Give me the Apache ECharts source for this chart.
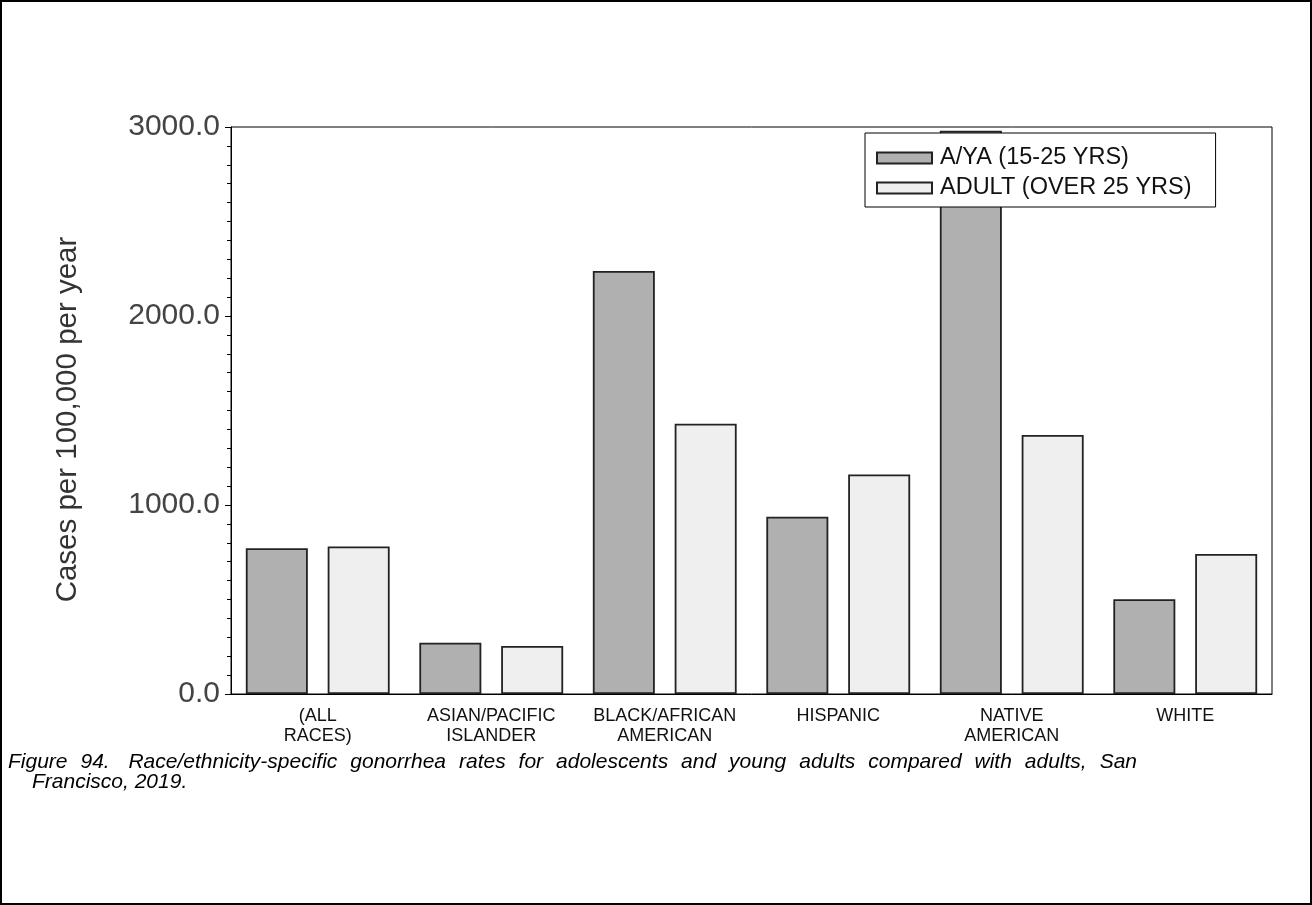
<!DOCTYPE html>
<html>
<head>
<meta charset="utf-8">
<script src="https://cdn.jsdelivr.net/npm/echarts@6/dist/echarts.min.js"></script>
<style>
html,body{margin:0;padding:0;background:#fff;}
#c{width:1312px;height:905px;}
</style>
</head>
<body>
<div id="c"></div>
<script>
var categories = ['(ALL\nRACES)', 'ASIAN/PACIFIC\nISLANDER', 'BLACK/AFRICAN\nAMERICAN', 'HISPANIC', 'NATIVE\nAMERICAN', 'WHITE'];
var ayaValues = [771, 271, 2238, 938, 2980, 501];
var adultValues = [781, 254, 1430, 1162, 1370, 741];
var seriesNames = ['A/YA (15-25 YRS)', 'ADULT (OVER 25 YRS)'];
var yAxisTitle = 'Cases per 100,000 per year';
var captionLines = ['Figure 94.  Race/ethnicity-specific gonorrhea rates for adolescents and young adults compared with adults, San', 'Francisco, 2019.'];

var font = 'Liberation Sans, Arial, sans-serif';
var capFont = 'italic 21px "Liberation Sans", Arial, sans-serif';

// justified first caption line (the source paragraph is justified)
var ctx = document.createElement('canvas').getContext('2d');
ctx.font = capFont;
var tokens = captionLines[0].split(/(\s+)/);
var words = [], gaps = [];
tokens.forEach(function (t, i) { if (i % 2 === 0) words.push(t); else gaps.push(t); });
var capLeft = 8, capRight = 1137;
var natural = ctx.measureText(captionLines[0]).width;
var extra = gaps.length ? Math.max(0, (capRight - capLeft - natural) / gaps.length) : 0;
var captionGraphics = [];
var x = capLeft;
words.forEach(function (w, i) {
  captionGraphics.push({type: 'text', x: x, y: 752, style: {text: w, font: capFont, fill: '#000'}, silent: true});
  x += ctx.measureText(w).width;
  if (i < gaps.length) x += ctx.measureText(gaps[i]).width + extra;
});
captionGraphics.push({type: 'text', x: 32, y: 772, style: {text: captionLines[1], font: capFont, fill: '#000'}, silent: true});

var chart = echarts.init(document.getElementById('c'), null, {renderer: 'canvas'});
chart.setOption({
  animation: false,
  backgroundColor: '#fff',
  grid: {left: 231, right: 40, top: 127, bottom: 211, show: true, borderColor: '#000', borderWidth: 1, backgroundColor: 'transparent'},
  legend: {
    orient: 'vertical', left: 865, top: 133,
    backgroundColor: '#fff', borderColor: '#000', borderWidth: 1,
    padding: [13, 24, 7, 11],
    itemWidth: 55, itemHeight: 11, itemGap: 6,
    icon: 'rect',
    textStyle: {fontFamily: font, fontSize: 23.5, color: '#111', lineHeight: 23, padding: [0, 0, 0, 3]},
    data: seriesNames
  },
  xAxis: {
    type: 'category', data: categories,
    axisLine: {lineStyle: {color: '#000', width: 1}},
    axisTick: {show: false},
    axisLabel: {fontFamily: font, fontSize: 18, color: '#111', lineHeight: 20, margin: 12, interval: 0}
  },
  yAxis: {
    type: 'value', min: 0, max: 3000, interval: 1000,
    name: yAxisTitle, nameLocation: 'middle', nameGap: 148,
    nameTextStyle: {fontFamily: font, fontSize: 29.5, color: '#333', padding: [0, 18, 0, 0]},
    axisLine: {show: true, lineStyle: {color: '#000', width: 1}},
    axisTick: {show: true, length: 6, lineStyle: {color: '#000'}},
    minorTick: {show: true, splitNumber: 10, length: 4, lineStyle: {color: '#000'}},
    splitLine: {show: false},
    axisLabel: {fontFamily: font, fontSize: 30, color: '#444', margin: 11, formatter: function (v) { return v.toFixed(1); }}
  },
  series: [
    {name: seriesNames[0], type: 'bar', data: ayaValues, barWidth: 62, barGap: '32%',
     itemStyle: {color: '#b0b0b0', borderColor: '#222', borderWidth: 1.8}},
    {name: seriesNames[1], type: 'bar', data: adultValues, barWidth: 62, barGap: '32%',
     itemStyle: {color: '#efefef', borderColor: '#222', borderWidth: 1.8}}
  ],
  graphic: [
    {type: 'rect', shape: {x: 1, y: 1, width: 1310, height: 903}, style: {fill: 'none', stroke: '#000', lineWidth: 2}, silent: true}
  ].concat(captionGraphics)
});
</script>
</body>
</html>
